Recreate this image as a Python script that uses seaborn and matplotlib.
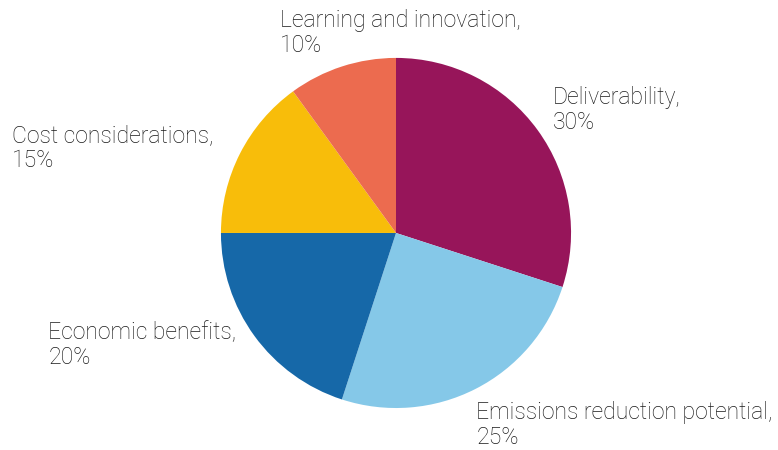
import seaborn as sns
import matplotlib.pyplot as plt

categories = ['Deliverability', 'Emissions reduction potential', 'Economic benefits',
              'Cost considerations', 'Learning and innovation']
shares = [30, 25, 20, 15, 10]
colors = ['#97155A', '#85C8E8', '#1668A8', '#F8BD0A', '#EC6B4F']

# where each label block sits (figure fractions)
label_pos = {
    'Deliverability': (0.711, 0.756),
    'Emissions reduction potential': (0.612, 0.056),
    'Economic benefits': (0.062, 0.233),
    'Cost considerations': (0.015, 0.671),
    'Learning and innovation': (0.360, 0.927),
}

sns.set_theme(style='white')
plt.rcParams['font.family'] = ['Roboto', 'DejaVu Sans']

fig = plt.figure(figsize=(7.78, 4.5), dpi=100)
ax = fig.add_axes([0.284, 0.0933, 0.45, 0.778])
ax.pie(shares, colors=colors, startangle=90, counterclock=False,
       wedgeprops=dict(linewidth=0))
ax.set_xlim(-1, 1)
ax.set_ylim(-1, 1)
ax.set_aspect('equal')
ax.axis('off')

for cat, val in zip(categories, shares):
    x, y = label_pos[cat]
    fig.text(x, y, f'{cat},\n{val}%', ha='left', va='center', fontsize=16.6,
             fontweight='light', color='#1a1a1a', linespacing=1.13)

fig.savefig('out.png', dpi=100, facecolor='white')
